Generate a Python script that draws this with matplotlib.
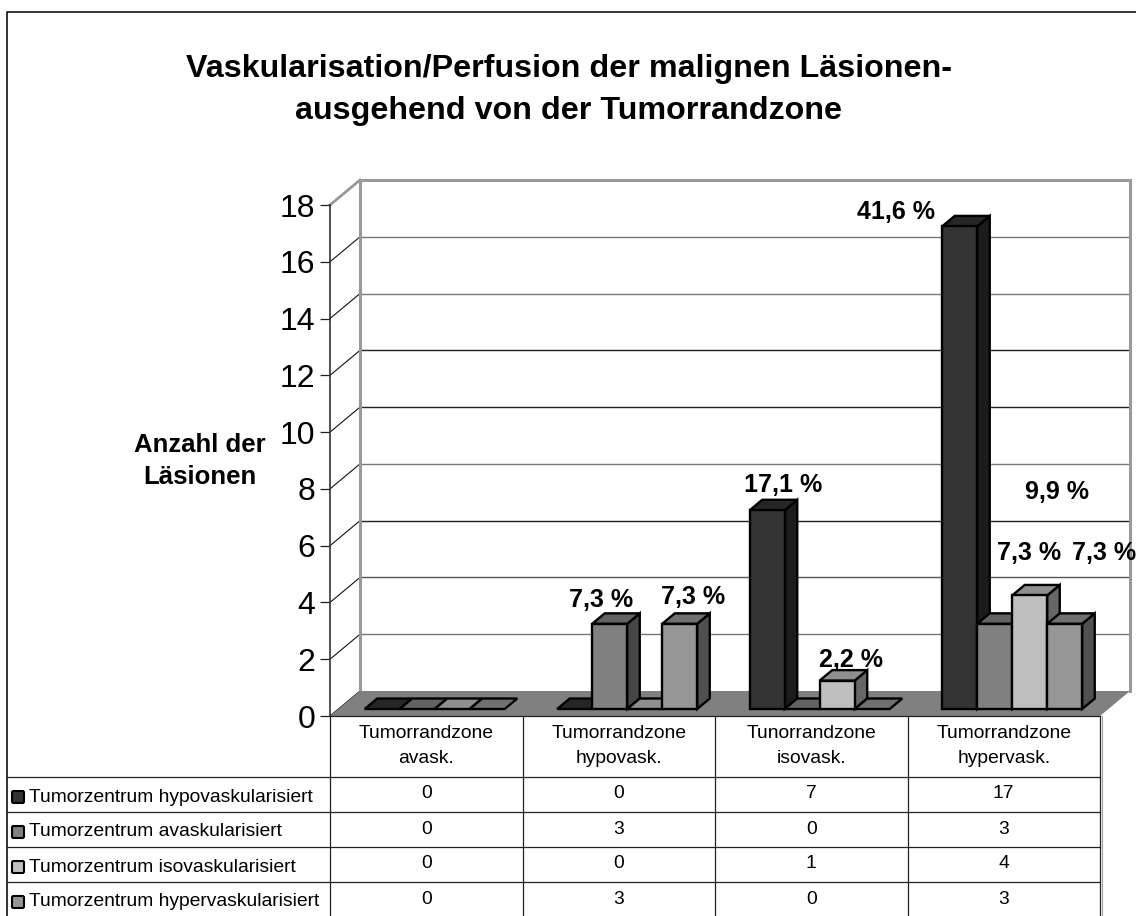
import matplotlib
matplotlib.use("Agg")
import matplotlib.pyplot as plt
from matplotlib.patches import Polygon, FancyBboxPatch

plt.rcParams['font.family'] = ['Liberation Sans', 'DejaVu Sans']

# ---------- data ----------
categories = ["Tumorrandzone\navask.", "Tumorrandzone\nhypovask.",
              "Tunorrandzone\nisovask.", "Tumorrandzone\nhypervask."]
series_names = ["Tumorzentrum hypovaskularisiert", "Tumorzentrum avaskularisiert",
                "Tumorzentrum isovaskularisiert", "Tumorzentrum hypervaskularisiert"]
hypo_values = [0, 0, 7, 17]
avas_values = [0, 3, 0, 3]
iso_values = [0, 0, 1, 4]
hyper_values = [0, 3, 0, 3]
series_values = [hypo_values, avas_values, iso_values, hyper_values]
y_ticks = [0, 2, 4, 6, 8, 10, 12, 14, 16, 18]
pct_labels = ["41,6 %", "17,1 %", "7,3 %", "7,3 %", "2,2 %", "9,9 %", "7,3 %", "7,3 %"]
title_text = "Vaskularisation/Perfusion der malignen Läsionen-\nausgehend von der Tumorrandzone"
y_title = "Anzahl der\nLäsionen"

# ---------- layout / style ----------
W, H = 1136, 916
pct_pos = [(896, 212), (783, 485), (601, 600), (693, 597),
           (851, 660), (1057, 492), (1029, 553), (1104, 553)]
front = ["#333333", "#808080", "#bfbfbf", "#969696"]
side = ["#1c1c1c", "#464646", "#666666", "#505050"]
top = ["#262626", "#636363", "#8f8f8f", "#707070"]
grid_cols = {2: "#777777", 4: "#555555", 6: "#222222", 8: "#777777",
             10: "#222222", 12: "#222222", 14: "#777777", 16: "#777777"}
table_left, plot_l, plot_r, plot_t, plot_b = 7, 330, 1100, 205, 716
row_lines = [777, 812, 847, 882]
row_text = [794, 829, 864, 899]
row_key = [797, 832, 867, 902]
table_font = 13.9

fig = plt.figure(figsize=(W / 100, H / 100), dpi=100, facecolor="white")

# pixel overlay for page furniture and table
ov = fig.add_axes([0, 0, 1, 1], zorder=5)
ov.set_xlim(0, W); ov.set_ylim(H, 0); ov.axis("off"); ov.patch.set_alpha(0)

# main chart axes: front plane of the 3-D box
ax = fig.add_axes([plot_l / W, 1 - plot_b / H, (plot_r - plot_l) / W, (plot_b - plot_t) / H], zorder=2)
ax.set_xlim(0, 4); ax.set_ylim(0, 18)
ax.patch.set_alpha(0)
for s in ("top", "right", "bottom"):
    ax.spines[s].set_visible(False)
ax.spines["left"].set_linewidth(1.2)
ax.spines["left"].set_color("#333333")
ax.set_yticks(y_ticks)
ax.tick_params(axis="y", labelsize=23, length=7.2, width=0.9, pad=3.5, color="#222222")
ax.set_xticks([i + 0.5 for i in range(4)])
ax.set_xticklabels(categories, fontsize=table_font, linespacing=1.65)
ax.tick_params(axis="x", length=0, pad=6.5)

DX, DY = 30 / 192.5, 25 / 28.39   # box depth in data units
def P(x, y, d):
    return (x + d * DX, y + d * DY)

def poly(pts, fc, ec="none", lw=0, z=2):
    ax.add_patch(Polygon(pts, closed=True, fc=fc, ec=ec, lw=lw, zorder=z,
                         clip_on=False, joinstyle="miter"))

# floor
poly([P(0, 0, 0), P(4, 0, 0), P(4, 0, 1), P(0, 0, 1)], "#808080", z=1.5)

# wall frame
wall = "#999999"
for a, b, w in [(P(0, 18, 1), P(4, 18, 1), 2.2), (P(0, 0, 1), P(0, 18, 1), 2.2),
                (P(4, 0, 1), P(4, 18, 1), 2.2), (P(0, 18, 0), P(0, 18, 1), 2.0)]:
    ax.plot(*zip(a, b), color=wall, lw=w, zorder=1.2, clip_on=False)

# gridlines
for v in y_ticks[1:-1]:
    ax.plot(*zip(P(0, v, 1), P(4, v, 1)), color=grid_cols[v], lw=1.0, zorder=1.1, clip_on=False)
for v in y_ticks[:-1]:
    ax.plot(*zip(P(0, v, 0), P(0, v, 1)), color="#111111", lw=0.8, zorder=1.1, clip_on=False)

# bars
bw = 35 / 192.5
gap = (1 - 4 * bw) / 2
d0, d1 = 0.28, 0.70
edge = dict(ec="black", lw=1.7)
z = 3.0
for c in range(4):
    for s, vals in enumerate(series_values):
        v = vals[c]
        x0 = c + gap + s * bw
        x1 = x0 + bw
        z += 0.01
        if v == 0:
            poly([P(x0, 0, d0), P(x1, 0, d0), P(x1, 0, d1), P(x0, 0, d1)], top[s], z=z, **edge)
            continue
        poly([P(x1, 0, d0), P(x1, 0, d1), P(x1, v, d1), P(x1, v, d0)], side[s], z=z, **edge)
        poly([P(x0, v, d0), P(x1, v, d0), P(x1, v, d1), P(x0, v, d1)], top[s], z=z, **edge)
        poly([P(x0, 0, d0), P(x1, 0, d0), P(x1, v, d0), P(x0, v, d0)], front[s], z=z, **edge)

# outer frame (left and top only are visible in the crop)
ov.plot([table_left, table_left, W], [H, 12, 12], color="#111111", lw=1.2)

# title and labels
ov.text(568.5, 90, title_text, ha="center", va="center", fontsize=23.2, fontweight="bold",
        linespacing=1.5)
ov.text(200, 461, y_title, ha="center", va="center", fontsize=18.5, fontweight="bold",
        linespacing=1.45)
for t, (x, y) in zip(pct_labels, pct_pos):
    ov.text(x, y, t, ha="center", va="center", fontsize=18, fontweight="bold")

# data table
col_x = [plot_l + i * (plot_r - plot_l) / 4 for i in range(5)]
for x in col_x:
    ov.plot([x, x], [plot_b, H], color="#222222", lw=0.9)
ov.plot([plot_r + 1.5, plot_r + 1.5], [plot_b, H], color="#aaaaaa", lw=0.9)
ov.plot([plot_l, plot_r], [plot_b, plot_b], color="#222222", lw=0.9)
for y in row_lines:
    ov.plot([table_left, plot_r], [y, y], color="#222222", lw=0.9)
for s, name in enumerate(series_names):
    y = row_key[s]
    ov.add_patch(FancyBboxPatch((12, y - 6), 12, 12, boxstyle="round,pad=0,rounding_size=1.5",
                                fc=front[s], ec="black", lw=1.5))
    ov.text(29, y, name, ha="left", va="center", fontsize=table_font)
    for c in range(4):
        ov.text((col_x[c] + col_x[c + 1]) / 2, row_text[s], str(series_values[s][c]),
                ha="center", va="center", fontsize=table_font)

fig.savefig("out.png", dpi=100, facecolor="white")
